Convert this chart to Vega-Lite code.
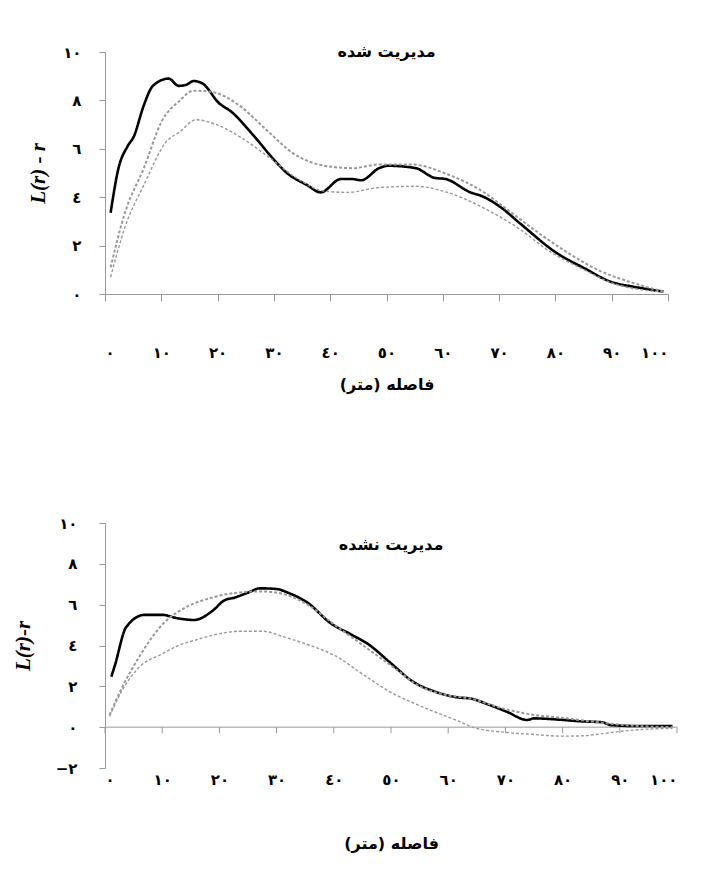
{
  "$schema": "https://vega.github.io/schema/vega-lite/v6.json",
  "background": "white",
  "padding": {"left": 12, "top": 44, "right": 5, "bottom": 5},
  "spacing": 124,
  "datasets": {
    "top": [
      {"r": 1.0, "v": 3.36, "s": "obs"}, {"r": 2.4, "v": 5.2, "s": "obs"}, {"r": 4.0, "v": 6.1, "s": "obs"}, {"r": 5.1, "v": 6.5, "s": "obs"},
      {"r": 6.9, "v": 7.8, "s": "obs"}, {"r": 8.5, "v": 8.6, "s": "obs"}, {"r": 11.3, "v": 8.9, "s": "obs"}, {"r": 13.1, "v": 8.6, "s": "obs"},
      {"r": 14.5, "v": 8.65, "s": "obs"}, {"r": 15.7, "v": 8.8, "s": "obs"}, {"r": 17.3, "v": 8.7, "s": "obs"}, {"r": 20.2, "v": 7.9, "s": "obs"},
      {"r": 22.6, "v": 7.5, "s": "obs"}, {"r": 26.2, "v": 6.6, "s": "obs"}, {"r": 30.2, "v": 5.5, "s": "obs"}, {"r": 32.3, "v": 5.0, "s": "obs"},
      {"r": 35.9, "v": 4.5, "s": "obs"}, {"r": 38.3, "v": 4.2, "s": "obs"}, {"r": 41.9, "v": 4.75, "s": "obs"}, {"r": 43.9, "v": 4.75, "s": "obs"},
      {"r": 45.5, "v": 4.7, "s": "obs"}, {"r": 48.7, "v": 5.2, "s": "obs"}, {"r": 50.3, "v": 5.3, "s": "obs"}, {"r": 55.2, "v": 5.2, "s": "obs"},
      {"r": 58.5, "v": 4.8, "s": "obs"}, {"r": 60.5, "v": 4.75, "s": "obs"}, {"r": 64.9, "v": 4.2, "s": "obs"}, {"r": 66.9, "v": 4.05, "s": "obs"},
      {"r": 70.2, "v": 3.6, "s": "obs"}, {"r": 73.8, "v": 2.9, "s": "obs"}, {"r": 80.2, "v": 1.7, "s": "obs"}, {"r": 85.1, "v": 1.07, "s": "obs"},
      {"r": 89.9, "v": 0.5, "s": "obs"}, {"r": 93.9, "v": 0.3, "s": "obs"}, {"r": 99.2, "v": 0.1, "s": "obs"},
      {"r": 1, "v": 1.1, "s": "hi"}, {"r": 3.6, "v": 3.4, "s": "hi"}, {"r": 6.9, "v": 5.2, "s": "hi"}, {"r": 10, "v": 7.1, "s": "hi"},
      {"r": 13.3, "v": 8.0, "s": "hi"}, {"r": 15.7, "v": 8.4, "s": "hi"}, {"r": 19, "v": 8.35, "s": "hi"}, {"r": 23.8, "v": 7.8, "s": "hi"},
      {"r": 28.6, "v": 6.8, "s": "hi"}, {"r": 33.5, "v": 5.8, "s": "hi"}, {"r": 39, "v": 5.3, "s": "hi"}, {"r": 44, "v": 5.2, "s": "hi"},
      {"r": 48.7, "v": 5.35, "s": "hi"}, {"r": 54.4, "v": 5.35, "s": "hi"}, {"r": 60.8, "v": 4.95, "s": "hi"}, {"r": 67.3, "v": 4.2, "s": "hi"},
      {"r": 71.4, "v": 3.5, "s": "hi"}, {"r": 75.4, "v": 2.8, "s": "hi"}, {"r": 81.9, "v": 1.75, "s": "hi"}, {"r": 87.5, "v": 1.0, "s": "hi"},
      {"r": 93.9, "v": 0.45, "s": "hi"}, {"r": 99.2, "v": 0.1, "s": "hi"},
      {"r": 1, "v": 0.7, "s": "lo"}, {"r": 3.6, "v": 2.8, "s": "lo"}, {"r": 6.9, "v": 4.5, "s": "lo"}, {"r": 10.9, "v": 6.3, "s": "lo"},
      {"r": 13.3, "v": 6.7, "s": "lo"}, {"r": 16.1, "v": 7.2, "s": "lo"}, {"r": 19.8, "v": 7.0, "s": "lo"}, {"r": 24.6, "v": 6.4, "s": "lo"},
      {"r": 29.4, "v": 5.6, "s": "lo"}, {"r": 34.3, "v": 4.75, "s": "lo"}, {"r": 39, "v": 4.25, "s": "lo"}, {"r": 43.1, "v": 4.2, "s": "lo"},
      {"r": 48.7, "v": 4.4, "s": "lo"}, {"r": 55.2, "v": 4.45, "s": "lo"}, {"r": 60.8, "v": 4.2, "s": "lo"}, {"r": 67.3, "v": 3.55, "s": "lo"},
      {"r": 72.9, "v": 2.8, "s": "lo"}, {"r": 79.4, "v": 1.7, "s": "lo"}, {"r": 85.1, "v": 1.0, "s": "lo"}, {"r": 90.1, "v": 0.45, "s": "lo"},
      {"r": 99.2, "v": 0.08, "s": "lo"}
    ],
    "bottom": [
      {"r": 1.1, "v": 2.47, "s": "obs"}, {"r": 1.7, "v": 3.0, "s": "obs"}, {"r": 3.7, "v": 4.9, "s": "obs"}, {"r": 6.9, "v": 5.5, "s": "obs"},
      {"r": 10.1, "v": 5.5, "s": "obs"}, {"r": 12.4, "v": 5.35, "s": "obs"}, {"r": 15.6, "v": 5.25, "s": "obs"}, {"r": 18.8, "v": 5.7, "s": "obs"},
      {"r": 20.8, "v": 6.2, "s": "obs"}, {"r": 22.7, "v": 6.35, "s": "obs"}, {"r": 25.1, "v": 6.6, "s": "obs"}, {"r": 27.1, "v": 6.8, "s": "obs"},
      {"r": 29.9, "v": 6.77, "s": "obs"}, {"r": 32.3, "v": 6.55, "s": "obs"}, {"r": 35.4, "v": 6.1, "s": "obs"}, {"r": 39.4, "v": 5.1, "s": "obs"},
      {"r": 43.3, "v": 4.5, "s": "obs"}, {"r": 46.1, "v": 4.05, "s": "obs"}, {"r": 49.7, "v": 3.2, "s": "obs"}, {"r": 54, "v": 2.2, "s": "obs"},
      {"r": 57.6, "v": 1.75, "s": "obs"}, {"r": 61.6, "v": 1.46, "s": "obs"}, {"r": 63.9, "v": 1.4, "s": "obs"}, {"r": 67.1, "v": 1.1, "s": "obs"},
      {"r": 70.3, "v": 0.75, "s": "obs"}, {"r": 73.8, "v": 0.35, "s": "obs"}, {"r": 75, "v": 0.43, "s": "obs"}, {"r": 79.8, "v": 0.36, "s": "obs"},
      {"r": 83, "v": 0.29, "s": "obs"}, {"r": 86.9, "v": 0.24, "s": "obs"}, {"r": 88.5, "v": 0.1, "s": "obs"}, {"r": 92.5, "v": 0.06, "s": "obs"},
      {"r": 99.2, "v": 0.06, "s": "obs"},
      {"r": 0.8, "v": 0.6, "s": "hi"}, {"r": 2.9, "v": 1.9, "s": "hi"}, {"r": 6.1, "v": 3.5, "s": "hi"}, {"r": 10.1, "v": 5.05, "s": "hi"},
      {"r": 14, "v": 5.85, "s": "hi"}, {"r": 18.8, "v": 6.35, "s": "hi"}, {"r": 23.5, "v": 6.6, "s": "hi"}, {"r": 27.5, "v": 6.65, "s": "hi"},
      {"r": 31.5, "v": 6.5, "s": "hi"}, {"r": 35.4, "v": 6.0, "s": "hi"}, {"r": 40.2, "v": 5.0, "s": "hi"}, {"r": 44.9, "v": 4.05, "s": "hi"},
      {"r": 51.3, "v": 2.75, "s": "hi"}, {"r": 54.4, "v": 2.1, "s": "hi"}, {"r": 59.2, "v": 1.6, "s": "hi"}, {"r": 63.9, "v": 1.4, "s": "hi"},
      {"r": 69.5, "v": 0.92, "s": "hi"}, {"r": 75, "v": 0.6, "s": "hi"}, {"r": 79.8, "v": 0.46, "s": "hi"}, {"r": 85.3, "v": 0.27, "s": "hi"},
      {"r": 90.9, "v": 0.1, "s": "hi"}, {"r": 99.2, "v": 0.0, "s": "hi"},
      {"r": 0.8, "v": 0.53, "s": "lo"}, {"r": 2.9, "v": 1.75, "s": "lo"}, {"r": 6.1, "v": 2.97, "s": "lo"}, {"r": 10.1, "v": 3.6, "s": "lo"},
      {"r": 12.4, "v": 3.95, "s": "lo"}, {"r": 15.6, "v": 4.25, "s": "lo"}, {"r": 19.6, "v": 4.55, "s": "lo"}, {"r": 23.5, "v": 4.7, "s": "lo"},
      {"r": 27.5, "v": 4.7, "s": "lo"}, {"r": 31.5, "v": 4.4, "s": "lo"}, {"r": 35.4, "v": 4.05, "s": "lo"}, {"r": 40.2, "v": 3.5, "s": "lo"},
      {"r": 45.7, "v": 2.47, "s": "lo"}, {"r": 49.7, "v": 1.75, "s": "lo"}, {"r": 55.2, "v": 1.03, "s": "lo"}, {"r": 61.6, "v": 0.32, "s": "lo"},
      {"r": 64.7, "v": -0.04, "s": "lo"}, {"r": 70.3, "v": -0.26, "s": "lo"}, {"r": 75, "v": -0.36, "s": "lo"}, {"r": 79.8, "v": -0.44, "s": "lo"},
      {"r": 83, "v": -0.43, "s": "lo"}, {"r": 89.3, "v": -0.23, "s": "lo"}, {"r": 94, "v": -0.11, "s": "lo"}, {"r": 99.2, "v": -0.06, "s": "lo"}
    ],
    "ticks": [
      {"r": 0}, {"r": 10}, {"r": 20}, {"r": 30}, {"r": 40}, {"r": 50}, {"r": 60}, {"r": 70}, {"r": 80}, {"r": 90}, {"r": 100}
    ]
  },
  "config": {
    "view": {"stroke": null},
    "axis": {
      "grid": false,
      "domainColor": "#999",
      "tickColor": "#999",
      "labelFont": "DejaVu Sans",
      "labelFontWeight": "bold",
      "labelFontSize": 15,
      "labelColor": "#000",
      "titleColor": "#000"
    }
  },
  "vconcat": [
    {
      "width": 563,
      "height": 242,
      "layer": [
        {
          "data": {"name": "top"},
          "mark": {"type": "line", "interpolate": "monotone"},
          "encoding": {
            "x": {
              "field": "r", "type": "quantitative",
              "scale": {"domain": [0, 100], "nice": false},
              "axis": {
                "values": [0, 10, 20, 30, 40, 50, 60, 70, 80, 90, 100],
                "tickSize": 7, "labelPadding": 44,
                "labelExpr": "{'0':'٠','10':'١٠','20':'٢٠','30':'٣٠','40':'٤٠','50':'٥٠','60':'٦٠','70':'٧٠','80':'٨٠','90':'٩٠','100':'١٠٠'}[datum.value]",
                "title": "فاصله (متر)", "titleFont": "DejaVu Sans", "titleFontSize": 16, "titleFontWeight": "bold", "titlePadding": 16
              }
            },
            "y": {
              "field": "v", "type": "quantitative",
              "scale": {"domain": [0, 10], "nice": false},
              "axis": {
                "values": [0, 2, 4, 6, 8, 10],
                "tickSize": 6, "labelPadding": 18,
                "labelExpr": "{'0':'٠','2':'٢','4':'٤','6':'٦','8':'٨','10':'١٠'}[datum.value]",
                "title": "L(r) - r", "titleFont": "Liberation Serif", "titleFontSize": 21, "titleFontWeight": "bold", "titleFontStyle": "italic", "titlePadding": 14
              }
            },
            "detail": {"field": "s"},
            "color": {"field": "s", "type": "nominal", "legend": null,
              "scale": {"domain": ["obs", "hi", "lo"], "range": ["#000", "#999", "#999"]}},
            "strokeWidth": {"field": "s", "type": "nominal", "legend": null,
              "scale": {"domain": ["obs", "hi", "lo"], "range": [2.6, 1.4, 1.4]}},
            "strokeDash": {"field": "s", "type": "nominal", "legend": null,
              "scale": {"domain": ["obs", "hi", "lo"], "range": [[1, 0], [3, 2], [3, 2]]}}
          }
        },
        {
          "data": {"values": [{"r": 50, "v": 10, "t": "مدیریت شده"}]},
          "mark": {"type": "text", "font": "DejaVu Sans", "fontWeight": "bold", "fontSize": 16, "baseline": "middle"},
          "encoding": {
            "x": {"field": "r", "type": "quantitative"},
            "y": {"field": "v", "type": "quantitative"},
            "text": {"field": "t"}
          }
        }
      ]
    },
    {
      "width": 572,
      "height": 245,
      "layer": [
        {
          "data": {"name": "ticks"},
          "mark": {"type": "rule", "color": "#999"},
          "encoding": {
            "x": {"field": "r", "type": "quantitative"},
            "y": {"datum": 0},
            "y2": {"datum": -0.3}
          }
        },
        {
          "data": {"values": [{"a": 0, "b": 100}]},
          "mark": {"type": "rule", "color": "#999"},
          "encoding": {
            "x": {"field": "a", "type": "quantitative"},
            "x2": {"field": "b"},
            "y": {"datum": 0}
          }
        },
        {
          "data": {"name": "bottom"},
          "mark": {"type": "line", "interpolate": "monotone"},
          "encoding": {
            "x": {
              "field": "r", "type": "quantitative",
              "scale": {"domain": [0, 100], "nice": false},
              "axis": {
                "values": [0, 10, 20, 30, 40, 50, 60, 70, 80, 90, 100],
                "domain": false, "ticks": false, "labelPadding": 4,
                "labelExpr": "{'0':'٠','10':'١٠','20':'٢٠','30':'٣٠','40':'٤٠','50':'٥٠','60':'٦٠','70':'٧٠','80':'٨٠','90':'٩٠','100':'١٠٠'}[datum.value]",
                "title": "فاصله (متر)", "titleFont": "DejaVu Sans", "titleFontSize": 16, "titleFontWeight": "bold", "titlePadding": 48
              }
            },
            "y": {
              "field": "v", "type": "quantitative",
              "scale": {"domain": [-2, 10], "nice": false},
              "axis": {
                "values": [-2, 0, 2, 4, 6, 8, 10],
                "tickSize": 6, "labelPadding": 22,
                "labelExpr": "{'-2':'−٢','0':'٠','2':'٢','4':'٤','6':'٦','8':'٨','10':'١٠'}[datum.value]",
                "title": "L(r)-r", "titleFont": "Liberation Serif", "titleFontSize": 21, "titleFontWeight": "bold", "titleFontStyle": "italic", "titlePadding": 22
              }
            },
            "detail": {"field": "s"},
            "color": {"field": "s", "type": "nominal", "legend": null,
              "scale": {"domain": ["obs", "hi", "lo"], "range": ["#000", "#999", "#999"]}},
            "strokeWidth": {"field": "s", "type": "nominal", "legend": null,
              "scale": {"domain": ["obs", "hi", "lo"], "range": [2.6, 1.4, 1.4]}},
            "strokeDash": {"field": "s", "type": "nominal", "legend": null,
              "scale": {"domain": ["obs", "hi", "lo"], "range": [[1, 0], [3, 2], [3, 2]]}}
          }
        },
        {
          "data": {"values": [{"r": 50, "v": 8.9, "t": "مدیریت نشده"}]},
          "mark": {"type": "text", "font": "DejaVu Sans", "fontWeight": "bold", "fontSize": 16, "baseline": "middle"},
          "encoding": {
            "x": {"field": "r", "type": "quantitative"},
            "y": {"field": "v", "type": "quantitative"},
            "text": {"field": "t"}
          }
        }
      ]
    }
  ]
}
